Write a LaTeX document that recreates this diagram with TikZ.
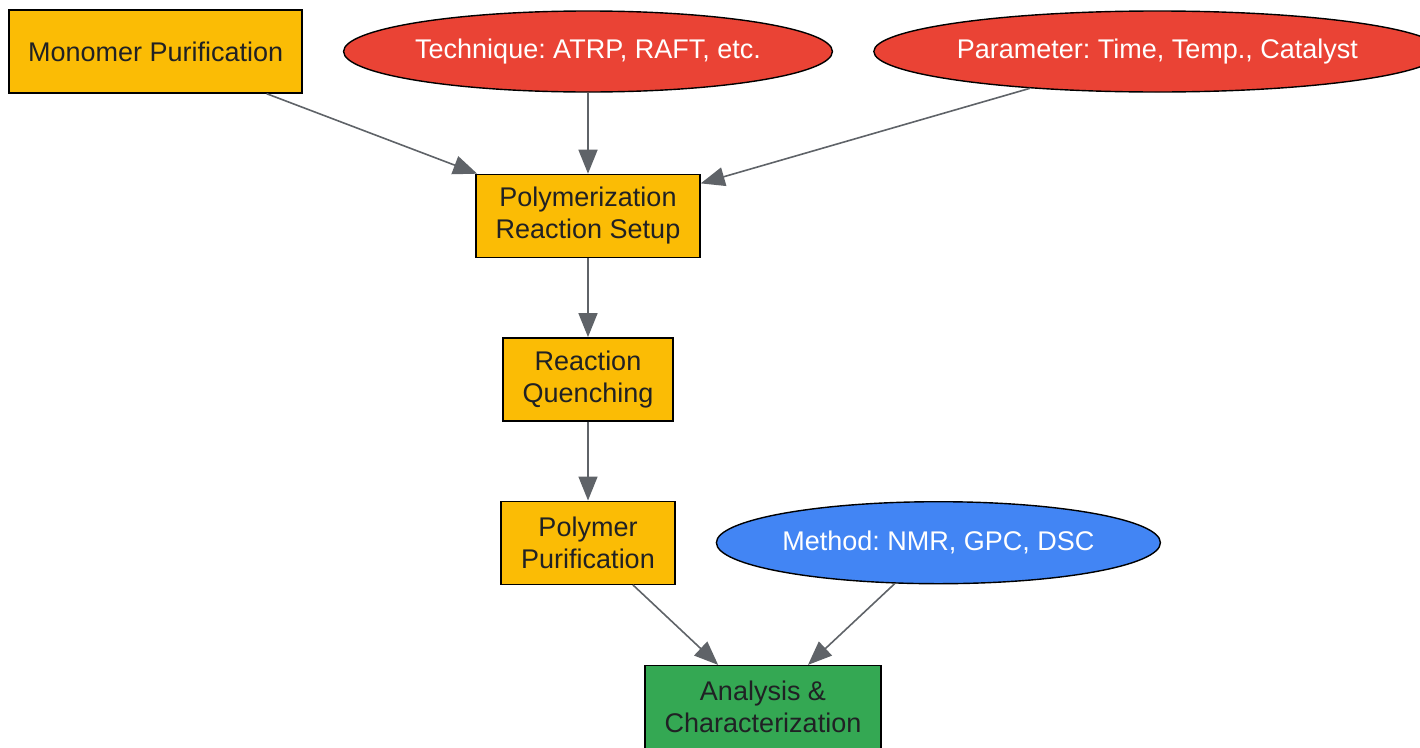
\documentclass[tikz,border=0pt]{standalone}
\usepackage{fontspec}
\setmainfont{Liberation Sans}
\usepackage{xcolor}
\usetikzlibrary{shapes,arrows.meta,positioning}

\definecolor{stepyellow}{HTML}{FBBC05}
\definecolor{optred}{HTML}{EA4335}
\definecolor{optblue}{HTML}{4285F4}
\definecolor{endgreen}{HTML}{34A853}
\definecolor{edgegray}{HTML}{5F6368}
\definecolor{darktext}{HTML}{202124}

\frenchspacing
\begin{document}
\begin{tikzpicture}[
    x=1pt, y=1pt,
    node distance=79pt and 40pt,
    every node/.style={font=\fontsize{27}{32}\selectfont, align=center, line width=1.4pt},
    stepbox/.style={rectangle, draw, fill=stepyellow, text=darktext, minimum height=83pt, inner sep=0pt},
    option/.style={ellipse, draw, fill=optred, text=white, minimum height=81pt, inner sep=0pt},
    finalbox/.style={rectangle, draw, fill=endgreen, text=darktext, minimum height=83pt, inner sep=0pt},
    arrow/.style={-{Triangle[length=24pt, width=19pt]}, draw=edgegray, fill=edgegray, line width=1.6pt}
]
\useasboundingbox (0,0) rectangle (1420,-747);

% Nodes
\node[option, minimum width=488pt] (technique) at (588,-51.5) {Technique: ATRP, RAFT, etc.};
\node[stepbox, minimum width=293pt, left=of technique] (monomer) {Monomer Purification};
\node[option, minimum width=548pt, right=of technique] (parameter) {Parameter: Time, Temp., Catalyst};
\node[stepbox, minimum width=224pt, below=81pt of technique] (setup) {Polymerization\\Reaction Setup};
\node[stepbox, minimum width=170pt, below=of setup] (quench) {Reaction\\Quenching};
\node[stepbox, minimum width=174pt, below=of quench] (polypur) {Polymer\\Purification};
\node[option, fill=optblue, minimum width=444pt, minimum height=82pt, right=of polypur] (method) {Method: NMR, GPC, DSC};
\node[finalbox, minimum width=236pt, below=80pt of polypur, xshift=175pt] (analysis) {Analysis \&\\Characterization};

% Arrows
\draw[arrow] (monomer) -- (setup);
\draw[arrow] (technique) -- (setup);
\draw[arrow] (parameter) -- (setup);
\draw[arrow] (setup) -- (quench);
\draw[arrow] (quench) -- (polypur);
\draw[arrow] (polypur) -- (analysis);
\draw[arrow] (method) -- (analysis);

\end{tikzpicture}
\end{document}
